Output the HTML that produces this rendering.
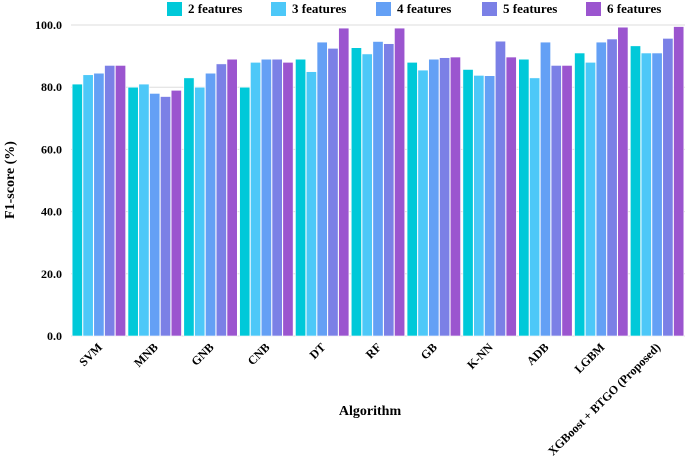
<!DOCTYPE html>
<html><head><meta charset="utf-8"><style>
body{margin:0;background:#fff;}
svg text{font-family:"Liberation Serif","Times New Roman",serif;font-weight:bold;}
</style></head><body>
<svg id="c" width="685" height="460"></svg>
<script>
const categories=["SVM","MNB","GNB","CNB","DT","RF","GB","K-NN","ADB","LGBM","XGBoost + BTGO (Proposed)"];
const seriesNames=["2 features","3 features","4 features","5 features","6 features"];
const s2=[81,80,83,80,89,92.7,88,85.7,89,91,93.3];
const s3=[84,81,80,88,85,90.7,85.5,83.8,83,88,91];
const s4=[84.5,78,84.5,89,94.5,94.7,89,83.7,94.5,94.5,91];
const s5=[87,77,87.5,89,92.5,94,89.5,94.8,87,95.5,95.7];
const s6=[87,79,89,88,99,99,89.7,89.7,87,99.3,99.5];
const yTicks=[0,20,40,60,80,100];
const series=[s2,s3,s4,s5,s6];
const colors=["#00c9d9","#4dc8f8","#64a0f5","#7b80e6","#9b55cf"];
const NS="http://www.w3.org/2000/svg";
const svg=document.getElementById('c');
const x0=71,x1=685,yB=336,yT=25;
const y=v=>yB-(v/100)*(yB-yT);
const gw=(x1-x0)/categories.length;
const bw=10.3;
const FF='"Liberation Serif", serif';
function el(t,a,txt){const e=document.createElementNS(NS,t);for(const k in a)e.setAttribute(k,a[k]);if(txt!=null){e.textContent=txt;e.setAttribute('font-family',FF);e.setAttribute('font-weight','bold');}svg.appendChild(e);return e;}
yTicks.forEach(v=>{
 const g=el('line',{x1:x0,x2:x1,y1:y(v),y2:y(v),stroke:'#ddd','stroke-width':1});
 
 
 const t=el('text',{x:62,y:y(v)+4,'text-anchor':'end','font-size':12},v.toFixed(1));
 
 
});
categories.forEach((c,i)=>{
 const gx=x0+i*gw+(gw-5*bw-2)/2;
 series.forEach((s,j)=>{
  const r=el('rect',{x:gx+j*(bw+0.5),y:y(s[i]),width:bw,height:yB-y(s[i]),fill:colors[j],stroke:'#fff','stroke-width':0.6});
  
  
 });
 const cx=x0+i*gw+gw/2;
 const t=el('text',{x:cx+4,y:348,'text-anchor':'end','font-size':12,transform:`rotate(-45 ${cx+4} 348)`},c);
 
 
});
const lx=[167,271,376,482,586];
seriesNames.forEach((n,j)=>{
 const r=el('rect',{x:lx[j],y:2,width:15,height:14,fill:colors[j]});
 
 
 const t=el('text',{x:lx[j]+21,y:13,'font-size':13},n);
 
 
});
const xt=el('text',{x:370,y:415,'text-anchor':'middle','font-size':14},'Algorithm');


const yt=el('text',{x:14,y:180,'text-anchor':'middle','font-size':14,transform:'rotate(-90 14 180)'},'F1-score (%)');


</script>
</body></html>
